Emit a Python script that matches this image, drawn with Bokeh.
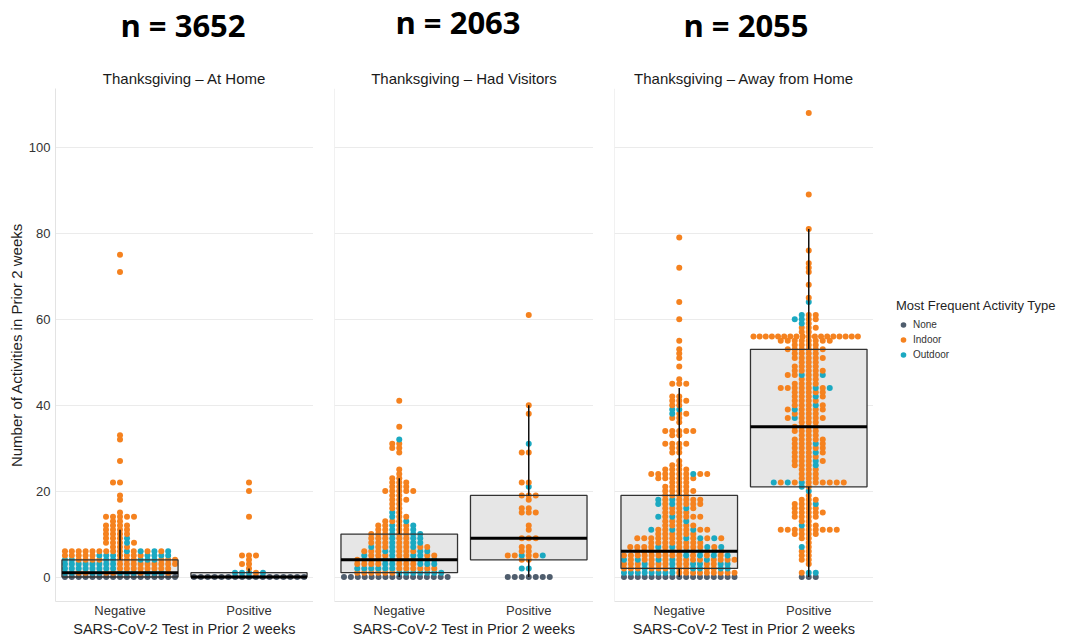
from bokeh.plotting import figure
from bokeh.layouts import column, row
from bokeh.models import ColumnDataSource, FixedTicker, Range1d, Span, Legend, LegendItem
from bokeh.core.properties import value
from bokeh.embed import file_html
from bokeh.resources import INLINE

# ---------------- data ----------------
panel_titles = ["Thanksgiving \u2013 At Home", "Thanksgiving \u2013 Had Visitors", "Thanksgiving \u2013 Away from Home"]
n_labels = ["n = 3652", "n = 2063", "n = 2055"]
test_results = ["Negative", "Positive"]
activity_types = ["None", "Indoor", "Outdoor"]
type_colors = ["#4f5d6d", "#f5821f", "#1ba9c1"]
y_ticks = [0, 20, 40, 60, 80, 100]

# box statistics, order: home-neg, home-pos, visitors-neg, visitors-pos, away-neg, away-pos
box_q1 = [0, 0, 1, 4, 2, 21]
box_med = [1, 0, 4, 9, 6, 35]
box_q3 = [4, 1, 10, 19, 19, 53]
box_wlo = [0, 0, 0, 0, 0, 0]
box_whi = [11, 2, 23, 40, 44, 81]

# visible dots: {value: count} per activity type
home_neg_none = {0: 17}
home_neg_indoor = {75: 1, 71: 1, 33: 1, 32: 1, 27: 1, 22: 2, 19: 1, 18: 1, 15: 1, 14: 5, 13: 2, 12: 4, 11: 4,
                   10: 4, 9: 3, 8: 4, 7: 3, 6: 12, 5: 9, 4: 10, 3: 9, 2: 8, 1: 6}
home_neg_outdoor = {9: 1, 8: 1, 6: 4, 5: 7, 4: 7, 3: 8, 2: 8, 1: 10}

home_pos_none = {0: 17}
home_pos_indoor = {22: 1, 20: 1, 14: 1, 5: 3, 4: 1, 3: 2, 2: 1, 1: 1}
home_pos_outdoor = {1: 4}

vis_neg_none = {0: 16}
vis_neg_indoor = {41: 1, 35: 1, 31: 2, 30: 2, 29: 1, 25: 1, 24: 1, 23: 2, 22: 3, 21: 3, 20: 5, 19: 2, 18: 3,
                  17: 2, 16: 2, 15: 1, 14: 2, 13: 3, 12: 4, 11: 4, 10: 5, 9: 5, 8: 5, 7: 6, 6: 6, 5: 7, 4: 7,
                  3: 7, 2: 6, 1: 6}
vis_neg_outdoor = {32: 1, 15: 1, 14: 1, 13: 1, 12: 2, 11: 2, 10: 3, 9: 3, 8: 3, 7: 3, 6: 4, 5: 4, 4: 5,
                   3: 5, 2: 6, 1: 7}

vis_pos_none = {0: 7}
vis_pos_indoor = {61: 1, 40: 1, 38: 1, 29: 2, 22: 2, 19: 3, 18: 1, 16: 2, 15: 3, 12: 1, 11: 1, 9: 3, 7: 2,
                  6: 2, 5: 4, 4: 2}
vis_pos_outdoor = {31: 1, 21: 1, 5: 2, 2: 2}

away_neg_none = {0: 17}
away_neg_indoor = {79: 1, 72: 1, 64: 1, 60: 1, 55: 1, 53: 1, 52: 1, 51: 1, 49: 1, 46: 1, 45: 3, 42: 2, 41: 3,
                   40: 2, 38: 2, 37: 2, 36: 1, 34: 5, 33: 2, 31: 4, 30: 2, 29: 2, 27: 1, 26: 2, 25: 4, 24: 8,
                   23: 6, 22: 3, 21: 4, 20: 5, 19: 4, 18: 5, 17: 5, 16: 4, 15: 4, 14: 5, 13: 3, 12: 5, 11: 6,
                   10: 6, 9: 10, 8: 8, 7: 10, 6: 10, 5: 12, 4: 12, 3: 10, 2: 10, 1: 9}
away_neg_outdoor = {39: 2, 38: 1, 24: 1, 18: 2, 17: 2, 16: 1, 14: 2, 13: 1, 11: 3, 9: 3, 7: 4, 6: 3, 5: 4,
                    4: 5, 3: 6, 2: 6, 1: 8}

away_pos_none = {0: 3}
away_pos_indoor = {108: 1, 89: 1, 81: 1, 76: 1, 73: 1, 72: 1, 71: 1, 68: 1, 65: 1, 61: 2, 60: 2, 59: 1, 58: 3,
                   57: 2, 56: 18, 55: 8, 54: 4, 53: 6, 52: 4, 51: 5, 50: 3, 49: 4, 48: 5, 47: 4, 46: 3, 45: 4,
                   44: 6, 43: 5, 42: 4, 41: 4, 40: 4, 39: 5, 38: 4, 37: 5, 36: 3, 35: 4, 34: 4, 33: 3, 32: 5,
                   31: 4, 30: 5, 29: 4, 28: 4, 27: 4, 26: 3, 25: 3, 24: 3, 23: 3, 22: 8, 21: 1, 19: 1, 18: 3,
                   17: 3, 16: 4, 15: 5, 14: 4, 13: 2, 12: 2, 11: 9, 10: 4, 9: 2, 8: 1, 7: 1, 6: 2, 5: 2, 4: 2,
                   3: 1, 1: 1}
away_pos_outdoor = {64: 1, 61: 1, 60: 2, 59: 1, 47: 2, 44: 2, 42: 1, 40: 1, 39: 1, 37: 1, 31: 1, 29: 1,
                    27: 1, 26: 1, 22: 3, 21: 1, 20: 1, 17: 1, 12: 1, 7: 1, 1: 2}

groups = [
    [(home_neg_none, home_neg_indoor, home_neg_outdoor), (home_pos_none, home_pos_indoor, home_pos_outdoor)],
    [(vis_neg_none, vis_neg_indoor, vis_neg_outdoor), (vis_pos_none, vis_pos_indoor, vis_pos_outdoor)],
    [(away_neg_none, away_neg_indoor, away_neg_outdoor), (away_pos_none, away_pos_indoor, away_pos_outdoor)],
]

# ---------------- layout constants ----------------
Y0, Y1 = -5.7, 113.7
HEAD_H = 88
FIG_H = 639 - HEAD_H
BORDER_B = 34
fig_w = [313, 280, 280]
border_l = [55, 21, 21]
LEG_W = 1074 - sum(fig_w)
DOT = 6
STEP = 7.0
BOX_W = 0.9
FONT = "Liberation Sans"


def build_points(none, indoor, outdoor):
    """Ordered (value, type) list, types mixed within a value."""
    pts = []
    vals = sorted(set(none) | set(indoor) | set(outdoor))
    for v in vals:
        pts += [(v, 0)] * none.get(v, 0)
        ni, no = indoor.get(v, 0), outdoor.get(v, 0)
        mix = [((k + 0.5) / ni, 1) for k in range(ni)] + [((k + 0.5) / no + 1e-3, 2) for k in range(no)]
        mix.sort()
        pts += [(v, t) for _, t in mix]
    return pts


def row_offsets(vals, step, max_half):
    """Centre-out dot rows for each value (pixel offsets), squeezed into the box width."""
    rows = {}
    for i, v in enumerate(vals):
        rows.setdefault(v, []).append(i)
    offs = [0.0] * len(vals)
    for v, idxs in rows.items():
        ks = [0]
        k = 1
        while len(ks) < len(idxs):
            ks.append(-k)
            if len(ks) < len(idxs):
                ks.append(k)
            k += 1
        span = max(abs(q) for q in ks)
        st = step if span * step <= max_half else max_half / span
        for i, q in zip(idxs, ks):
            offs[i] = q * st
    return offs


def style_axis(ax, tick_size, label_size):
    ax.major_tick_line_color = None
    ax.minor_tick_line_color = None
    ax.major_tick_out = 0
    ax.major_tick_in = 0
    ax.minor_tick_out = 0
    ax.minor_tick_in = 0
    ax.axis_line_color = "#e3e3e3"
    ax.axis_line_width = 1
    ax.major_label_text_font = FONT
    ax.major_label_text_font_size = tick_size
    ax.major_label_text_color = "#333333"
    ax.axis_label_text_font = FONT
    ax.axis_label_text_font_size = label_size
    ax.axis_label_text_font_style = "normal"
    ax.axis_label_text_color = "#1f1f1f"


def bare(p):
    p.outline_line_color = None
    p.xgrid.visible = False
    p.ygrid.visible = False
    p.background_fill_color = "white"
    p.border_fill_color = "white"


figs = []
box_idx = 0
for pi in range(3):
    frame_w = fig_w[pi] - border_l[pi]
    ppx = frame_w / 2.0
    p = figure(width=fig_w[pi], height=FIG_H, x_range=Range1d(0.5, 2.5), y_range=Range1d(Y0, Y1),
               output_backend="svg", toolbar_location=None, title=None,
               min_border_left=border_l[pi], min_border_right=0,
               min_border_top=0, min_border_bottom=BORDER_B)
    p.outline_line_color = None
    p.background_fill_color = "white"
    p.border_fill_color = "white"
    p.xgrid.visible = False
    p.ygrid.ticker = FixedTicker(ticks=y_ticks)
    p.ygrid.grid_line_color = "#ebebeb"
    p.ygrid.grid_line_width = 1

    p.xaxis.ticker = FixedTicker(ticks=[1, 2])
    p.xaxis.major_label_overrides = {1: test_results[0], 2: test_results[1]}
    p.xaxis.axis_label = "SARS-CoV-2 Test in Prior 2 weeks"
    style_axis(p.xaxis[0], "13px", "14.5px")
    p.xaxis.major_label_standoff = 1
    p.xaxis.axis_label_standoff = 0

    if pi == 0:
        p.yaxis.ticker = FixedTicker(ticks=y_ticks)
        p.yaxis.axis_label = "Number of Activities in Prior 2 weeks"
        style_axis(p.yaxis[0], "13px", "15px")
        p.yaxis.major_label_standoff = 5
        p.yaxis.axis_label_standoff = 1
    else:
        p.yaxis.visible = False
        p.add_layout(Span(location=0.5, dimension="height", line_color="#e3e3e3", line_width=1))

    bx = [1, 2]
    sl = slice(box_idx, box_idx + 2)
    box_idx += 2
    bsrc = ColumnDataSource(dict(x=bx, q1=box_q1[sl], med=box_med[sl], q3=box_q3[sl],
                                 wlo=box_wlo[sl], whi=box_whi[sl],
                                 left=[x - BOX_W / 2 for x in bx], right=[x + BOX_W / 2 for x in bx]))
    p.vbar(x="x", bottom="q1", top="q3", width=BOX_W, source=bsrc, fill_color="#e6e6e6", line_color=None)

    xs, ys, cs, ts = [], [], [], []
    for gi in range(2):
        none, indoor, outdoor = groups[pi][gi]
        pts = build_points(none, indoor, outdoor)
        vals = [v for v, _ in pts]
        offs = row_offsets(vals, STEP, BOX_W / 2 * ppx - DOT / 2)
        for (v, t), o in zip(pts, offs):
            xs.append(gi + 1 + o / ppx)
            ys.append(v)
            cs.append(type_colors[t])
            ts.append(activity_types[t])
    psrc = ColumnDataSource(dict(x=xs, y=ys, color=cs, kind=ts))
    p.scatter("x", "y", source=psrc, size=DOT, fill_color="color", line_color=None)

    p.vbar(x="x", bottom="q1", top="q3", width=BOX_W, source=bsrc, fill_color=None,
           line_color="#333333", line_width=1.3)
    p.segment(x0="x", y0="q3", x1="x", y1="whi", source=bsrc, line_color="#111111", line_width=1.5)
    p.segment(x0="x", y0="wlo", x1="x", y1="q1", source=bsrc, line_color="#111111", line_width=1.5)
    p.segment(x0="left", y0="med", x1="right", y1="med", source=bsrc, line_color="#000000", line_width=3)
    figs.append(p)

# legend panel (key glyphs only; the sample markers sit outside its visible range)
lp = figure(width=LEG_W, height=FIG_H, x_range=Range1d(0, 1), y_range=Range1d(0, 1),
            output_backend="svg", toolbar_location=None, title=None,
            min_border_left=0, min_border_right=0, min_border_top=0, min_border_bottom=0,
            x_axis_location=None, y_axis_location=None)
bare(lp)
lsrc = ColumnDataSource(dict(x=[-5, -5, -5], y=[-5, -5, -5], color=type_colors, kind=activity_types))
lr = lp.scatter("x", "y", source=lsrc, size=DOT, fill_color="color", line_color=None)
items = [LegendItem(label=t, renderers=[lr], index=i) for i, t in enumerate(activity_types)]
leg = Legend(items=items, location=(23, 239), title="Most Frequent Activity Type",
             title_text_font=FONT, title_text_font_size="13px", title_text_font_style="normal",
             title_text_color="#1f1f1f", title_standoff=4,
             label_text_font=FONT, label_text_font_size="10px", label_text_color="#333333",
             glyph_width=14, glyph_height=15, label_height=15, label_standoff=3, spacing=0,
             padding=0, margin=0, border_line_color=None, background_fill_alpha=0)
lp.add_layout(leg)

# header with sample sizes and facet titles
TOTAL_W = sum(fig_w) + LEG_W
head = figure(width=TOTAL_W, height=HEAD_H, x_range=Range1d(0, TOTAL_W), y_range=Range1d(0, HEAD_H),
              output_backend="svg", toolbar_location=None, title=None,
              min_border_left=0, min_border_right=0, min_border_top=0, min_border_bottom=0,
              x_axis_location=None, y_axis_location=None)
bare(head)
n_x = [182.5, 457.5, 745.5]
n_y = [HEAD_H - 24, HEAD_H - 21, HEAD_H - 24]
head.text(x=n_x, y=n_y, text=n_labels, text_font=value("Open Sans"), text_font_style="bold",
          text_font_size="31px", text_align="center", text_baseline="middle", text_color="black")
t_x = [184, 463.5, 743.5]
t_y = [HEAD_H - 78] * 3
head.text(x=t_x, y=t_y, text=panel_titles, text_font=value(FONT), text_font_size="15px",
          text_align="center", text_baseline="middle", text_color="#1a1a1a")

layout = column(head, row(*figs, lp, spacing=0), spacing=0)
open("out.html", "w").write(file_html(layout, INLINE))
